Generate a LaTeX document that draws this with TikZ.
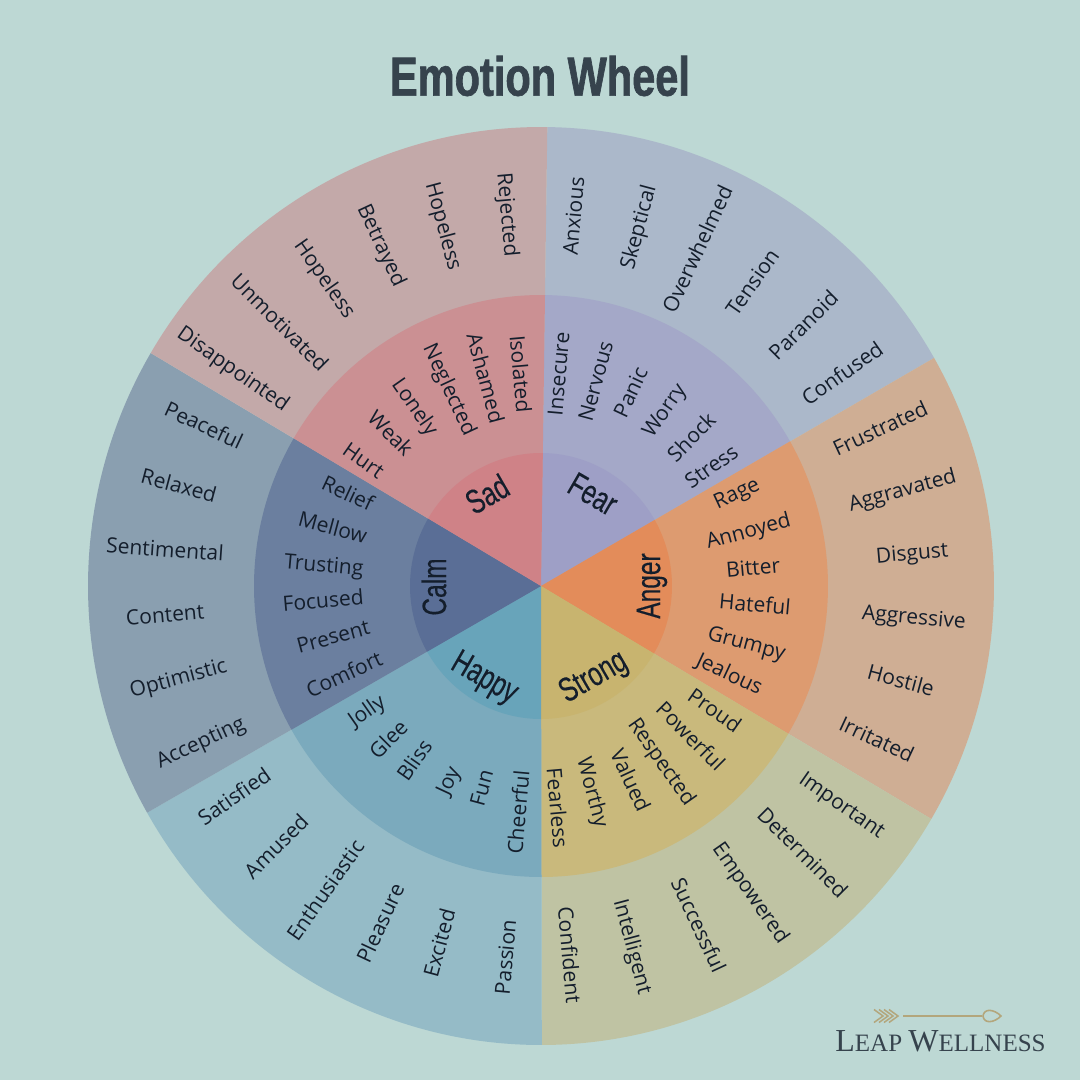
\documentclass[tikz,border=0pt]{standalone}
\usepackage{fontspec}
\setmainfont{Open Sans}
\newfontfamily\titlefont[FakeStretch=0.755,FakeBold=1.2]{Liberation Sans Bold}
\newfontfamily\hubfont[FakeStretch=0.72,FakeBold=0.25]{Liberation Sans}
\newfontfamily\logofont{Liberation Serif}

\definecolor{bgcol}{HTML}{BDD8D4}
\definecolor{inkcol}{HTML}{141E2C}
\definecolor{titlecol}{HTML}{36434D}
\definecolor{goldcol}{HTML}{B3A67C}
\definecolor{FearOut}{HTML}{ABB8CA}
\definecolor{FearMid}{HTML}{A4A8C8}
\definecolor{FearIn}{HTML}{9E9FC6}
\definecolor{AngerOut}{HTML}{CFAE94}
\definecolor{AngerMid}{HTML}{DD9B70}
\definecolor{AngerIn}{HTML}{E38C5A}
\definecolor{StrongOut}{HTML}{BFC3A3}
\definecolor{StrongMid}{HTML}{C9B97C}
\definecolor{StrongIn}{HTML}{C8B46F}
\definecolor{HappyOut}{HTML}{95BBC7}
\definecolor{HappyMid}{HTML}{7BAABD}
\definecolor{HappyIn}{HTML}{68A4BA}
\definecolor{CalmOut}{HTML}{8A9FB0}
\definecolor{CalmMid}{HTML}{6B7F9F}
\definecolor{CalmIn}{HTML}{5A6E96}
\definecolor{SadOut}{HTML}{C3A9A9}
\definecolor{SadMid}{HTML}{CB9093}
\definecolor{SadIn}{HTML}{CF8287}

\tikzset{
    word/.style = {text = inkcol, inner sep = 0pt, text height = 16pt, text depth = 0pt, font = \fontsize{21}{21}\selectfont},
    hub/.style = {text = inkcol, inner sep = 0pt, font = \hubfont\fontsize{34}{34}\selectfont}
}

\begin{document}
\begin{tikzpicture}[x = 1pt, y = -1pt]
    \fill[bgcol] (0,0) rectangle (1080,1080);
    \useasboundingbox (0,0) rectangle (1080,1080);

    \node (title) [text = titlecol, inner sep = 0pt, font = \titlefont\fontsize{55}{55}\selectfont] at (540,76) {Emotion Wheel};

    % rings, outside first
    \begin{scope}[shift = {(541,586)}, y = 1pt]
        \foreach \rx/\ry/\lvl in {453/459/Out, 287/291/Mid, 131/133/In} {
            \foreach \a/\b/\sect in {29.8/89.2/Fear, -30.5/29.8/Anger, -89.9/-30.5/Strong, -150.4/-89.9/Happy, 149.5/209.6/Calm, 89.2/149.5/Sad} {
                \fill[\sect\lvl] (0,0) -- (\a:\rx pt and \ry pt)
                    arc[start angle = \a, end angle = \b, x radius = \rx pt, y radius = \ry pt] -- cycle;
            }
        }
    \end{scope}

    \node (Fear) [hub, rotate = -30] at (593,494) {Fear};
    \node (Anger) [hub, rotate = 90] at (652,586) {Anger};
    \node (Strong) [hub, rotate = 30] at (594,678) {Strong};
    \node (Happy) [hub, rotate = -30] at (484,679) {Happy};
    \node (Calm) [hub, rotate = 90] at (434,587) {Calm};
    \node (Sad) [hub, rotate = 30] at (487,494) {Sad};

    % middle ring
    \node (Insecure) [word, rotate = 85] at (558,374) {Insecure};
    \node (Nervous) [word, rotate = 75] at (595,381) {Nervous};
    \node (Panic) [word, rotate = 65] at (630,392) {Panic};
    \node (Worry) [word, rotate = 55] at (663,410) {Worry};
    \node (Shock) [word, rotate = 45] at (691,437) {Shock};
    \node (Stress) [word, rotate = 35] at (711,466) {Stress};

    \node (Rage) [word, rotate = 25] at (736,492) {Rage};
    \node (Annoyed) [word, rotate = 15] at (748,530) {Annoyed};
    \node (Bitter) [word, rotate = 5] at (753,567) {Bitter};
    \node (Hateful) [word, rotate = -5] at (755,604) {Hateful};
    \node (Grumpy) [word, rotate = -15] at (747,642) {Grumpy};
    \node (Jealous) [word, rotate = -25] at (730,673) {Jealous};

    \node (Proud) [word, rotate = -35] at (715,710) {Proud};
    \node (Powerful) [word, rotate = -45] at (691,736) {Powerful};
    \node (Respected) [word, rotate = -55] at (663,761) {Respected};
    \node (Valued) [word, rotate = -65] at (631,780) {Valued};
    \node (Worthy) [word, rotate = -75] at (594,792) {Worthy};
    \node (Fearless) [word, rotate = -85] at (558,808) {Fearless};

    \node (Cheerful) [word, rotate = 85] at (518,812) {Cheerful};
    \node (Fun) [word, rotate = 75] at (481,788) {Fun};
    \node (Joy) [word, rotate = 65] at (447,780) {Joy};
    \node (Bliss) [word, rotate = 55] at (414,760) {Bliss};
    \node (Glee) [word, rotate = 45] at (388,739) {Glee};
    \node (Jolly) [word, rotate = 35] at (366,710) {Jolly};

    \node (Comfort) [word, rotate = 25] at (344,674) {Comfort};
    \node (Present) [word, rotate = 15] at (333,636) {Present};
    \node (Focused) [word, rotate = 5] at (323,600) {Focused};
    \node (Trusting) [word, rotate = -5] at (324,564) {Trusting};
    \node (Mellow) [word, rotate = -15] at (333,527) {Mellow};
    \node (Relief) [word, rotate = -25] at (348,493) {Relief};

    \node (Hurt) [word, rotate = -35] at (364,460) {Hurt};
    \node (Weak) [word, rotate = -45] at (391,433) {Weak};
    \node (Lonely) [word, rotate = -55] at (416,406) {Lonely};
    \node (Neglected) [word, rotate = -65] at (451,389) {Neglected};
    \node (Ashamed) [word, rotate = -75] at (486,378) {Ashamed};
    \node (Isolated) [word, rotate = -85] at (521,374) {Isolated};

    % outer ring
    \node (Anxious) [word, rotate = 85] at (573,216) {Anxious};
    \node (Skeptical) [word, rotate = 75] at (637,227) {Skeptical};
    \node (Overwhelmed) [word, rotate = 65] at (697,249) {Overwhelmed};
    \node (Tension) [word, rotate = 55] at (752,282) {Tension};
    \node (Paranoid) [word, rotate = 45] at (803,325) {Paranoid};
    \node (Confused) [word, rotate = 35] at (842,373) {Confused};

    \node (Frustrated) [word, rotate = 25] at (880,428) {Frustrated};
    \node (Aggravated) [word, rotate = 15] at (902,489) {Aggravated};
    \node (Disgust) [word, rotate = 5] at (912,552) {Disgust};
    \node (Aggressive) [word, rotate = -5] at (914,616) {Aggressive};
    \node (Hostile) [word, rotate = -15] at (901,680) {Hostile};
    \node (Irritated) [word, rotate = -25] at (877,739) {Irritated};

    \node (Important) [word, rotate = -35] at (843,804) {Important};
    \node (Determined) [word, rotate = -45] at (803,852) {Determined};
    \node (Empowered) [word, rotate = -55] at (752,892) {Empowered};
    \node (Successful) [word, rotate = -65] at (699,925) {Successful};
    \node (Intelligent) [word, rotate = -75] at (634,946) {Intelligent};
    \node (Confident) [word, rotate = -85] at (570,955) {Confident};

    \node (Passion) [word, rotate = 85] at (505,957) {Passion};
    \node (Excited) [word, rotate = 75] at (439,943) {Excited};
    \node (Pleasure) [word, rotate = 65] at (380,923) {Pleasure};
    \node (Enthusiastic) [word, rotate = 55] at (325,890) {Enthusiastic};
    \node (Amused) [word, rotate = 45] at (276,846) {Amused};
    \node (Satisfied) [word, rotate = 35] at (234,796) {Satisfied};

    \node (Accepting) [word, rotate = 25] at (200,741) {Accepting};
    \node (Optimistic) [word, rotate = 15] at (178,677) {Optimistic};
    \node (Content) [word, rotate = 5] at (165,614) {Content};
    \node (Sentimental) [word, rotate = -4] at (165,549) {Sentimental};
    \node (Relaxed) [word, rotate = -15] at (179,485) {Relaxed};
    \node (Peaceful) [word, rotate = -25] at (204,425) {Peaceful};

    \node (Disappointed) [word, rotate = -35] at (234,368) {Disappointed};
    \node (Unmotivated) [word, rotate = -45] at (280,322) {Unmotivated};
    \node (HopelessA) [word, rotate = -55] at (326,278) {Hopeless};
    \node (Betrayed) [word, rotate = -65] at (383,245) {Betrayed};
    \node (HopelessB) [word, rotate = -75] at (445,226) {Hopeless};
    \node (Rejected) [word, rotate = -85] at (509,215) {Rejected};

    % logo
    \foreach \cx in {874,879,884,889} {
        \draw[goldcol, line width = 1.5pt] (\cx,1009.5) -- (\cx+9,1016) -- (\cx,1022.5);
    }
    \draw[goldcol, line width = 2pt] (903,1016) -- (982,1016);
    \draw[goldcol, line width = 1.6pt] (983,1016) .. controls (984,1008) and (994,1009) .. (1001,1016)
        .. controls (994,1023) and (984,1024) .. (983,1016) -- cycle;
    \node (logo) [text = titlecol, inner sep = 0pt, font = \logofont] at (940.5,1041)
        {\fontsize{32}{32}\selectfont L\fontsize{25}{25}\selectfont EAP \fontsize{32}{32}\selectfont W\fontsize{25}{25}\selectfont ELLNESS};
\end{tikzpicture}
\end{document}
